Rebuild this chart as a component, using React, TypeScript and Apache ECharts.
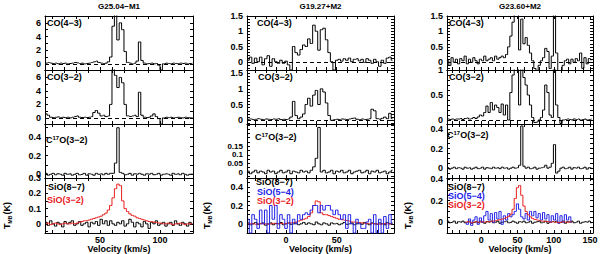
import React, { useEffect, useRef } from 'react';
import * as echarts from 'echarts';

// ---------- Column A: G25.04-M1 (channels v = 5 + 2 i km/s) ----------
const vStartA = 5;
const vStepA = 2;
const co43A = [0.1, 0.2, 0.1, 0.05, 0.1, 0.0, 0.1, 0.05, 0.1, 0.0,
  0.05, 0.1, 0.2, 0.15, 0.05, 0.1, 0.0, 0.05, 0.1, 0.2,
  0.3, 0.4, 0.2, 0.1, 0.05, 0.1, 0.3, 1.0, 5.5, 7.5,
  3.5, 6.0, 5.0, 1.8, 0.2, 0.1, 0.0, 0.1, 0.4, 3.2,
  0.5, 0.1, 0.0, 0.05, 0.1, 0.0, 0.05, -0.2, -0.9, 0.0,
  0.1, 0.05, 0.0, 0.1, 0.05, 0.0, 0.1, 0.05, 0.1, 0.0,
  0.05, 0.1];
const co32A = [0.6, 0.4, 0.1, 0.05, 0.1, 0.15, 0.05, 0.1, 0.05, 0.1,
  0.0, 0.1, 0.2, 0.3, 0.1, 0.05, 0.1, 0.05, 0.1, 0.2,
  0.8, 1.1, 0.7, 0.3, 0.4, 0.2, 0.3, 2.0, 7.3, 6.3,
  4.5, 6.0, 5.2, 2.0, 0.3, 0.2, 0.3, 0.4, 0.2, 3.8,
  0.4, 0.1, 0.05, 0.1, 0.3, 0.6, 0.2, -0.1, -0.9, 0.0,
  0.1, 0.05, 0.1, 0.0, 0.05, 0.1, 0.05, 0.0, 0.1, 0.05,
  0.0, 0.05];
const c17oA = [0.01, -0.01, 0.0, 0.01, -0.005, 0.005, 0.0, -0.01, 0.01, 0.0,
  0.005, -0.01, 0.0, 0.01, -0.005, 0.0, 0.01, -0.01, 0.005, 0.0,
  -0.01, 0.01, 0.0, 0.005, -0.005, 0.01, 0.0, 0.01, 0.01, 0.12,
  0.5, 0.02, 0.01, -0.005, 0.0, 0.01, -0.01, 0.005, 0.0, 0.01,
  0.0, -0.01, 0.005, 0.0, 0.01, -0.005, 0.0, 0.01, -0.01, 0.0,
  0.005, 0.0, -0.01, 0.01, 0.0, 0.005, -0.005, 0.01, 0.0, -0.01,
  0.0, 0.005];
const sio87A = [0.01, -0.01, 0.02, 0.0, -0.015, 0.01, 0.0, -0.02, 0.015, 0.0,
  0.01, 0.02, -0.01, 0.0, 0.015, -0.01, 0.0, 0.01, -0.02, 0.01,
  0.0, 0.015, -0.01, 0.03, 0.0, 0.02, -0.01, 0.02, 0.0, -0.01,
  0.01, 0.0, 0.02, -0.015, 0.0, 0.03, 0.01, -0.02, 0.01, 0.0,
  -0.02, 0.015, 0.0, -0.03, 0.01, 0.0, 0.02, -0.01, 0.0, 0.01,
  -0.015, 0.0, 0.01, -0.01, 0.02, 0.0, -0.01, 0.01, 0.0, -0.015,
  0.01, 0.0];
const sio32A = [0.0, 0.005, -0.005, 0.0, 0.005, 0.0, -0.005, 0.0, 0.005, 0.0,
  0.0, 0.005, 0.0, 0.005, 0.01, 0.015, 0.02, 0.02, 0.025, 0.03,
  0.035, 0.04, 0.045, 0.05, 0.06, 0.07, 0.09, 0.12, 0.17, 0.23,
  0.26, 0.25, 0.15, 0.1, 0.08, 0.065, 0.055, 0.05, 0.04, 0.035,
  0.03, 0.025, 0.02, 0.015, 0.015, 0.01, 0.01, 0.005, 0.005, 0.0,
  0.0, 0.005, 0.0, -0.005, 0.0, 0.0, 0.005, 0.0, -0.005, 0.0,
  0.0, 0.0];

// ---------- Column B: G19.27+M2 (channels v = -37.5 + 2.5 i km/s) ----------
const vStartB = -37.5;
const vStepB = 2.5;
const co43B = [0.05, 0.15, -0.05, 0.12, 0.0, 0.15, -0.1, 0.1, 0.2, -0.15,
  0.1, 0.0, -0.05, 0.05, -0.05, 0.02, -0.1, -0.27, 0.5, 0.3,
  0.22, 0.4, 0.55, 0.5, 0.75, 0.6, 1.2, 1.0, 0.38, 1.05,
  1.1, 0.72, 0.3, 0.0, -0.27, 0.05, 0.08, 0.02, 0.1, 0.05,
  0.12, 0.0, 0.08, 0.1, 0.03, 0.08, -0.02, 0.1, 0.05, -0.05,
  0.08, 0.0, -0.15, 0.05, -0.05, 0.12, 0.15, 0.05];
const co32B = [0.03, 0.04, 0.02, 0.03, 0.05, 0.03, 0.02, 0.04, 0.03, 0.02,
  0.04, 0.03, 0.05, 0.02, 0.03, 0.02, 0.04, 0.1, 0.6, 0.15,
  0.05, 0.1, 0.2, 0.5, 0.7, 0.45, 0.8, 0.95, 0.5, 1.0,
  0.9, 0.55, 0.15, 0.0, 0.02, 0.03, 0.02, 0.04, 0.03, 0.02,
  0.04, 0.06, 0.07, 0.03, 0.02, 0.04, 0.02, 0.03, 0.05, 0.35,
  0.3, 0.05, 0.03, 0.06, 0.1, 0.05, 0.22, 0.05];
const c17oB = [0.005, -0.01, 0.0, 0.01, -0.005, 0.005, 0.0, -0.01, 0.01, 0.0,
  0.005, -0.01, 0.0, 0.01, -0.005, 0.0, 0.01, -0.01, 0.005, 0.0,
  -0.005, 0.01, 0.0, 0.005, -0.005, 0.01, 0.03, 0.08, 0.26, 0.0,
  0.01, -0.005, 0.0, 0.01, -0.01, 0.005, 0.0, 0.01, -0.005, 0.0,
  0.01, -0.01, 0.0, 0.005, 0.01, -0.005, 0.0, 0.01, -0.01, 0.005,
  0.0, 0.01, -0.005, 0.0, 0.005, -0.01, 0.0, 0.01];
const sio87B = [0.01, -0.01, 0.0, 0.015, -0.005, 0.0, 0.01, -0.015, 0.0, 0.01,
  -0.01, 0.005, 0.0, 0.015, -0.01, 0.0, 0.01, -0.005, 0.0, 0.01,
  -0.01, 0.0, 0.015, -0.005, 0.01, 0.0, -0.01, 0.02, 0.0, -0.01,
  0.01, 0.0, -0.015, 0.01, 0.0, 0.005, -0.01, 0.0, 0.015, -0.005,
  0.0, 0.01, -0.01, 0.0, 0.01, -0.005, 0.015, 0.0, -0.01, 0.01,
  0.0, -0.005, 0.01, 0.0, -0.01, 0.015, 0.0, 0.01];
const sio54B = [0.05, -0.1, 0.1, 0.05, -0.05, 0.15, 0.0, 0.15, -0.1, 0.2,
  0.05, 0.2, -0.05, 0.1, 0.05, -0.05, 0.1, -0.1, 0.05, 0.0,
  0.1, 0.05, 0.1, 0.12, 0.1, 0.15, 0.2, 0.2, 0.12, 0.2,
  0.15, 0.2, 0.2, 0.15, 0.1, 0.15, 0.1, 0.05, 0.1, -0.05,
  0.1, 0.0, -0.1, 0.05, 0.0, -0.05, -0.05, 0.02, 0.05, -0.1,
  0.1, -0.1, 0.05, -0.1, 0.08, -0.05, 0.1, 0.0];
const sio32B = [0.0, 0.005, 0.0, -0.005, 0.0, 0.005, 0.0, 0.0, -0.005, 0.0,
  0.005, 0.0, 0.0, 0.005, 0.0, 0.005, 0.01, 0.01, 0.015, 0.02,
  0.03, 0.04, 0.05, 0.06, 0.08, 0.12, 0.2, 0.25, 0.24, 0.12,
  0.1, 0.1, 0.09, 0.08, 0.07, 0.06, 0.05, 0.045, 0.04, 0.035,
  0.03, 0.02, 0.02, 0.015, 0.01, 0.01, 0.005, 0.005, 0.0, 0.005,
  0.0, 0.0, -0.005, 0.0, 0.005, 0.0, 0.0, 0.0];

// ---------- Column C: G23.60+M2 (channels v = -46 + 3 i km/s; SiO 5-4 / 3-2 from -22) ----------
const vStartC = -46;
const vStartC2 = -22;
const vStepC = 3;
const co43C = [0.05, -0.1, 0.15, 0.0, 0.1, -0.05, 0.12, 0.05, 0.2, -0.05,
  0.1, 0.0, 0.15, 0.05, -0.05, 0.1, 0.05, 0.2, 0.05, 0.1,
  0.15, 0.05, 0.2, 0.1, 0.15, 0.2, 0.15, 0.25, 0.5, 0.85,
  1.3, 1.8, 1.7, 0.4, 1.4, 0.6, 0.8, 0.55, 0.3, 0.05,
  -0.2, -0.3, -0.1, 0.05, 0.15, 0.45, 0.35, -0.2, 0.2, 1.8,
  0.3, -0.3, -0.3, -0.1, 0.05, 0.1, -0.05, 0.1, 0.0, 0.12,
  0.05, 0.3, -0.2, 0.15, -0.05, 0.12, 0.08];
const co32C = [0.02, 0.01, 0.02, 0.01, 0.02, 0.02, 0.03, 0.01, 0.03, 0.04,
  0.02, 0.03, 0.05, 0.03, 0.06, 0.1, 0.08, 0.15, 0.28, 0.15,
  0.35, 0.2, 0.3, 0.25, 0.15, 0.32, 0.1, 0.3, 0.0, 0.55,
  0.9, 1.2, 1.3, 0.3, 1.2, 0.85, 0.7, 0.5, 0.3, 0.05,
  -0.05, -0.04, 0.0, 0.05, 0.2, 0.7, 0.55, 0.1, 0.05, 1.3,
  0.3, 0.05, -0.07, 0.0, 0.01, 0.02, 0.01, 0.0, 0.02, 0.01,
  0.02, 0.0, 0.01, 0.02, 0.0, 0.01, 0.02];
const c17oC = [0.005, -0.01, 0.0, 0.01, -0.005, 0.005, 0.0, -0.01, 0.01, 0.0,
  0.005, -0.01, 0.0, 0.01, -0.005, 0.0, 0.01, -0.01, 0.005, 0.0,
  -0.005, 0.01, 0.0, 0.005, -0.005, 0.01, 0.0, 0.005, -0.01, 0.0,
  0.01, 0.0, 0.005, 0.03, 0.43, 0.02, 0.0, 0.01, -0.005, 0.0,
  0.01, -0.01, 0.0, 0.005, 0.01, 0.03, 0.0, 0.01, 0.05, 0.24,
  -0.05, -0.03, 0.0, 0.01, -0.005, 0.0, 0.01, -0.01, 0.005, 0.0,
  0.01, -0.005, 0.0, 0.01, -0.01, 0.005, 0.0];
const sio87C = [0.01, -0.005, 0.0, 0.01, -0.01, 0.005, 0.0, 0.01, -0.005, 0.0,
  0.01, -0.01, 0.0, 0.005, -0.005, 0.01, 0.0, -0.01, 0.005, 0.0,
  0.01, -0.005, 0.0, 0.01, -0.01, 0.0, 0.005, 0.01, -0.005, 0.0,
  0.01, 0.0, -0.01, 0.005, 0.0, 0.01, -0.005, 0.0, 0.01, -0.01,
  0.0, 0.005, 0.01, -0.005, 0.0, 0.01, -0.01, 0.0, 0.005, 0.0,
  0.01, -0.005, 0.0, 0.01, -0.01, 0.005, 0.0, 0.01, -0.005, 0.0,
  0.01, -0.01, 0.0, 0.005, 0.0, 0.01, -0.005];
const sio54C = [0.0, -0.02, 0.03, -0.03, 0.02, 0.05, -0.02, 0.04, 0.0, 0.06,
  0.1, 0.02, 0.08, 0.0, 0.09, 0.03, 0.1, -0.02, 0.06, 0.02,
  0.08, 0.05, 0.07, 0.1, 0.17, 0.12, 0.05, 0.03, 0.08, 0.02,
  0.1, 0.06, 0.1, 0.04, 0.08, 0.02, 0.09, 0.03, 0.07, 0.0,
  0.06, 0.02, 0.08, -0.01, 0.06, 0.0, 0.07, 0.02, 0.05, 0.0];
const sio32C = [0.0, 0.005, 0.0, -0.005, 0.0, 0.005, 0.0, 0.0, 0.005, 0.0,
  0.005, 0.005, 0.01, 0.01, 0.015, 0.02, 0.025, 0.03, 0.035, 0.045,
  0.055, 0.075, 0.12, 0.22, 0.32, 0.34, 0.25, 0.15, 0.1, 0.07,
  0.05, 0.035, 0.025, 0.02, 0.015, 0.01, 0.01, 0.005, 0.005, 0.0,
  0.005, 0.0, 0.0, -0.005, 0.0, 0.005, 0.0, 0.0, 0.005, 0.0];

// ---------- Axis ranges, ticks and labels ----------
const titles = ['G25.04\u2212M1', 'G19.27+M2', 'G23.60+M2'];
const xRanges = [[4.2, 127.5], [-38.5, 106.5], [-47, 154]];
const xLabels = [[50, 100], [0, 50], [0, 50, 100, 150]];
const xTicks = [
  [10, 20, 30, 40, 50, 60, 70, 80, 90, 100, 110, 120],
  [-30, -20, -10, 0, 10, 20, 30, 40, 50, 60, 70, 80, 90, 100],
  [-40, -30, -20, -10, 0, 10, 20, 30, 40, 50, 60, 70, 80, 90, 100, 110, 120, 130, 140, 150],
];
// [column][row]
const yRanges = [
  [[-0.9, 7.0], [-0.9, 7.1], [-0.04, 0.54], [-0.06, 0.3]],
  [[-0.27, 1.5], [-0.12, 1.6], [-0.035, 0.28], [-0.1, 0.5]],
  [[-0.25, 1.5], [-0.08, 1.0], [-0.1, 0.45], [-0.1, 0.41]],
];
const yLabels = [
  [[0, 2, 4, 6], [0, 2, 4, 6], [0, 0.2, 0.4], [0, 0.1, 0.2, 0.3]],
  [[0, 0.5, 1, 1.5], [0, 0.5, 1, 1.5], [0, 0.05, 0.1, 0.15], [0, 0.2, 0.4]],
  [[0, 0.5, 1, 1.5], [0, 0.5, 1], [0, 0.2, 0.4], [0, 0.2, 0.4]],
];
const yTicks = [
  [[0, 1, 2, 3, 4, 5, 6, 7], [0, 1, 2, 3, 4, 5, 6, 7], [0, 0.1, 0.2, 0.3, 0.4, 0.5], [-0.05, 0, 0.05, 0.1, 0.15, 0.2, 0.25, 0.3]],
  [[-0.2, -0.1, 0, 0.1, 0.2, 0.3, 0.4, 0.5, 0.6, 0.7, 0.8, 0.9, 1, 1.1, 1.2, 1.3, 1.4, 1.5],
   [-0.1, 0, 0.1, 0.2, 0.3, 0.4, 0.5, 0.6, 0.7, 0.8, 0.9, 1, 1.1, 1.2, 1.3, 1.4, 1.5],
   [-0.025, 0, 0.025, 0.05, 0.075, 0.1, 0.125, 0.15, 0.175, 0.2, 0.225, 0.25, 0.275],
   [-0.1, -0.05, 0, 0.05, 0.1, 0.15, 0.2, 0.25, 0.3, 0.35, 0.4, 0.45, 0.5]],
  [[-0.2, -0.1, 0, 0.1, 0.2, 0.3, 0.4, 0.5, 0.6, 0.7, 0.8, 0.9, 1, 1.1, 1.2, 1.3, 1.4, 1.5],
   [0, 0.1, 0.2, 0.3, 0.4, 0.5, 0.6, 0.7, 0.8, 0.9, 1],
   [-0.1, -0.05, 0, 0.05, 0.1, 0.15, 0.2, 0.25, 0.3, 0.35, 0.4, 0.45],
   [-0.1, -0.05, 0, 0.05, 0.1, 0.15, 0.2, 0.25, 0.3, 0.35, 0.4]],
];

const BLACK = '#000000';
const RED = '#e8201e';
const BLUE = '#2424e6';
const FONT = 'Liberation Sans';

// layout
const colLeft = [45, 247, 447];
const colWidth = [148, 147, 146];
const rowTop = [16, 70, 124, 178];
const rowHeight = [54, 54, 54, 55];

type Spec = { t: number[]; start: number; step: number; color: string };

const spectra: Spec[][][] = [
  [
    [{ t: co43A, start: vStartA, step: vStepA, color: BLACK }],
    [{ t: co32A, start: vStartA, step: vStepA, color: BLACK }],
    [{ t: c17oA, start: vStartA, step: vStepA, color: BLACK }],
    [{ t: sio87A, start: vStartA, step: vStepA, color: BLACK },
     { t: sio32A, start: vStartA, step: vStepA, color: RED }],
  ],
  [
    [{ t: co43B, start: vStartB, step: vStepB, color: BLACK }],
    [{ t: co32B, start: vStartB, step: vStepB, color: BLACK }],
    [{ t: c17oB, start: vStartB, step: vStepB, color: BLACK }],
    [{ t: sio87B, start: vStartB, step: vStepB, color: BLACK },
     { t: sio32B, start: vStartB, step: vStepB, color: RED },
     { t: sio54B, start: vStartB, step: vStepB, color: BLUE }],
  ],
  [
    [{ t: co43C, start: vStartC, step: vStepC, color: BLACK }],
    [{ t: co32C, start: vStartC, step: vStepC, color: BLACK }],
    [{ t: c17oC, start: vStartC, step: vStepC, color: BLACK }],
    [{ t: sio87C, start: vStartC, step: vStepC, color: BLACK },
     { t: sio54C, start: vStartC2, step: vStepC, color: BLUE },
     { t: sio32C, start: vStartC2, step: vStepC, color: RED }],
  ],
];

const tickFont = `bold 9px ${FONT}`;
const denseTickFont = `bold 8px ${FONT}`;

const plainText = (x: number, y: number, text: string, font: string, color = BLACK, align = 'left', vAlign = 'middle') => ({
  type: 'text', x, y, silent: true, z: 100,
  style: { text, fill: color, font, textAlign: align, textVerticalAlign: vAlign, align, verticalAlign: vAlign },
});

function buildOption() {
  const grid: any[] = [];
  const xAxis: any[] = [];
  const yAxis: any[] = [];
  const series: any[] = [];
  const graphic: any[] = [];
  const axisLine = { show: true, onZero: false, lineStyle: { color: BLACK, width: 1 } };

  for (let c = 0; c < 3; c++) {
    for (let r = 0; r < 4; r++) {
      const gi = grid.length;
      grid.push({ left: colLeft[c], top: rowTop[r], width: colWidth[c], height: rowHeight[r], containLabel: false });
      const [xmin, xmax] = xRanges[c];
      const [ymin, ymax] = yRanges[c][r];
      ['bottom', 'top'].forEach((pos) => {
        xAxis.push({
          type: 'value', gridIndex: gi, position: pos, min: xmin, max: xmax,
          axisLine,
          axisTick: { show: true, inside: true, length: 3, customValues: xTicks[c], lineStyle: { color: BLACK, width: 1 } },
          axisLabel: { show: false },
          splitLine: { show: false },
        });
      });
      ['left', 'right'].forEach((pos) => {
        yAxis.push({
          type: 'value', gridIndex: gi, position: pos, min: ymin, max: ymax,
          axisLine,
          axisTick: { show: true, inside: true, length: 3, customValues: yTicks[c][r], lineStyle: { color: BLACK, width: 1 } },
          axisLabel: { show: false },
          splitLine: { show: false },
        });
      });
      spectra[c][r].forEach((s, si) => {
        const data = s.t.map((t, i) => [s.start + s.step * i, t]);
        const ser: any = {
          type: 'line', xAxisIndex: gi * 2, yAxisIndex: gi * 2, data, step: 'middle',
          symbol: 'none', silent: true, clip: true,
          lineStyle: { color: s.color, width: 1 }, itemStyle: { color: s.color },
          z: 2 + si,
        };
        if (si === 0 && r < 2) {
          ser.markLine = {
            silent: true, symbol: ['none', 'none'], label: { show: false },
            lineStyle: { type: [4, 3], color: BLACK, width: 1 },
            data: [{ yAxis: 0 }],
          };
        }
        series.push(ser);
      });
    }
    const cx = colLeft[c] + colWidth[c] / 2;
    graphic.push(plainText(cx, 6, titles[c], `bold 8px ${FONT}`, BLACK, 'center'));
    graphic.push(plainText(cx, 249, 'Velocity (km/s)', `bold 9px ${FONT}`, BLACK, 'center'));
    // rotated T_MB (K)
    const yNameX = [7, 207, 408][c];
    graphic.push({
      type: 'group', x: yNameX, y: 215, rotation: Math.PI / 2, silent: true,
      children: [
        plainText(-14, 0, 'T', `bold 9px ${FONT}`),
        plainText(-8.4, 2.5, 'MB', `bold 5px ${FONT}`),
        plainText(0.5, 0, '(K)', `bold 9px ${FONT}`),
      ],
    });
  }

  const lbl = (x: number, y: number, text: string, color = BLACK) => plainText(x, y, text, `bold 9px ${FONT}`, color);
  const c17 = (x: number, y: number) => ({
    type: 'group', x, y, silent: true,
    children: [
      plainText(0, 0, 'C', `bold 9px ${FONT}`),
      plainText(6.5, -2.5, '17', `bold 6px ${FONT}`),
      plainText(13.2, 0, 'O(3\u22122)', `bold 9px ${FONT}`),
    ],
  });
  graphic.push(
    lbl(47, 23, 'CO(4\u22123)'), lbl(47, 77, 'CO(3\u22122)'), c17(46, 140),
    lbl(48, 187, 'SiO(8\u22127)'), lbl(47, 200, 'SiO(3\u22122)', RED),
    lbl(257, 23, 'CO(4\u22123)'), lbl(258, 77, 'CO(3\u22122)'), c17(255, 137),
    lbl(256, 182, 'SiO(8\u22127)'), lbl(257, 192, 'SiO(5\u22124)', BLUE), lbl(257, 201, 'SiO(3\u22122)', RED),
    lbl(449, 23, 'CO(4\u22123)'), lbl(449, 77, 'CO(3\u22122)'), c17(447, 135),
    lbl(448, 187, 'SiO(8\u22127)'), lbl(448, 196, 'SiO(5\u22124)', BLUE), lbl(448, 205, 'SiO(3\u22122)', RED),
  );

  return { animation: false, backgroundColor: '#ffffff', grid, xAxis, yAxis, series, graphic };
}

// Tick labels placed through the axes' own scales (convertToPixel)
function tickLabelGraphics(chart: any) {
  const out: any[] = [];
  for (let c = 0; c < 3; c++) {
    for (let r = 0; r < 4; r++) {
      const gi = c * 4 + r;
      const finder = { xAxisIndex: gi * 2, yAxisIndex: gi * 2 };
      const [xmin] = xRanges[c];
      const [ymin] = yRanges[c][r];
      const font = c === 1 && r === 2 ? denseTickFont : tickFont;
      yLabels[c][r].forEach((v) => {
        const p = chart.convertToPixel(finder, [xmin, v]);
        out.push(plainText(p[0] - 4, p[1], String(v), font, BLACK, 'right'));
      });
      if (r === 3) {
        xLabels[c].forEach((v) => {
          const p = chart.convertToPixel(finder, [v, ymin]);
          out.push(plainText(p[0], p[1] + 2, String(v), tickFont, BLACK, 'center', 'top'));
        });
      }
    }
  }
  return out;
}

export default function App() {
  const ref = useRef<HTMLDivElement>(null);
  useEffect(() => {
    if (!ref.current) return;
    const chart = echarts.init(ref.current, undefined, { renderer: 'svg' });
    const option = buildOption();
    chart.setOption(option as any);
    const extra = tickLabelGraphics(chart);
    chart.setOption({ graphic: [...option.graphic, ...extra] } as any);
    return () => chart.dispose();
  }, []);
  return <div ref={ref} style={{ position: 'absolute', left: 0, top: 0, width: 600, height: 254 }} />;
}
